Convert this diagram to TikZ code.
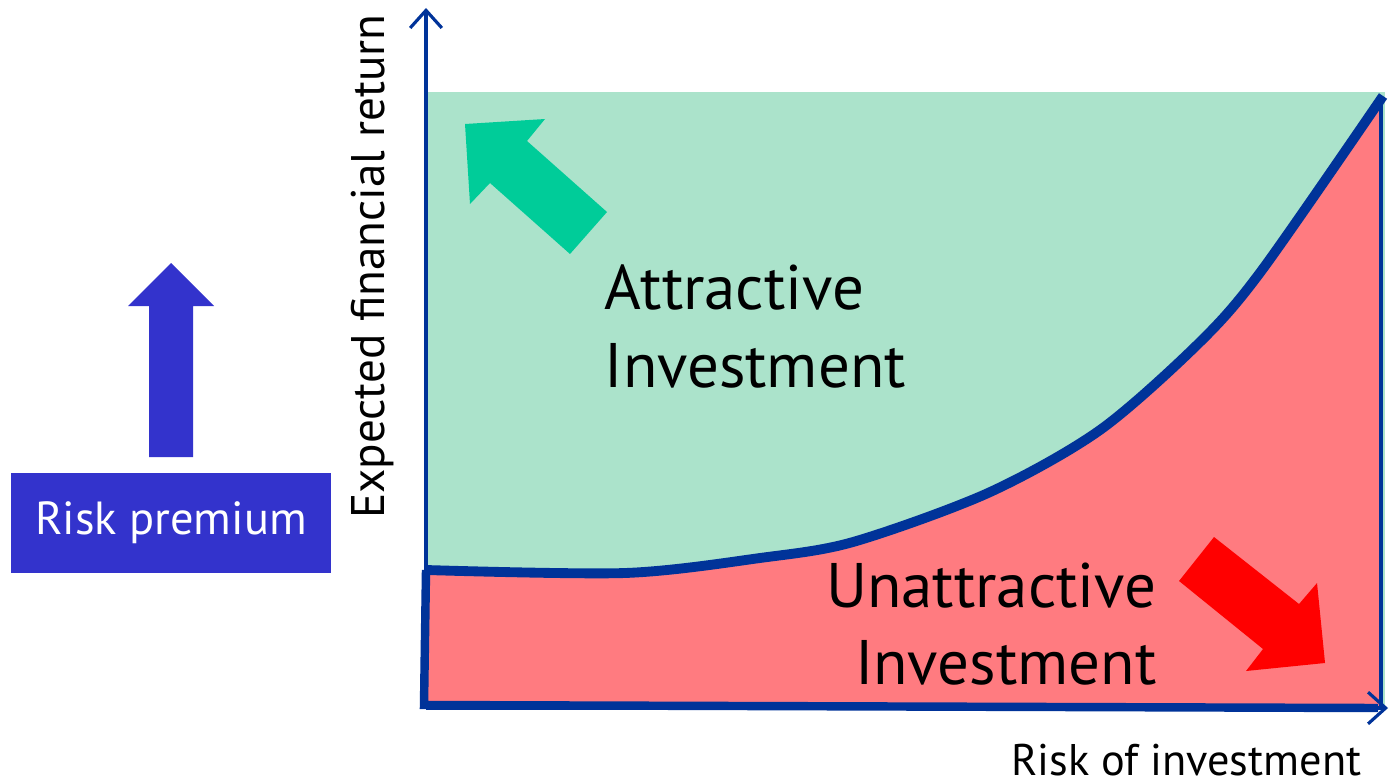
\documentclass[tikz,border=0pt]{standalone}
\usepackage{fontspec}
\setmainfont{PT Sans}
\usetikzlibrary{arrows.meta}

\definecolor{axisblue}{RGB}{0,51,153}
\definecolor{goodzone}{RGB}{171,227,203}
\definecolor{badzone}{RGB}{255,123,128}
\definecolor{goodarrow}{RGB}{0,204,153}
\definecolor{badarrow}{RGB}{255,0,0}
\definecolor{premiumblue}{RGB}{51,51,204}

\tikzset{
  axis/.style={axisblue,line width=0.9pt,-{Straight Barb[length=5pt,width=9pt,line width=0.9pt]}},
  frontier/.style={axisblue,line width=2.8pt,line join=round},
  zonelabel/.style={font=\fontsize{17.9}{21}\selectfont,inner sep=0pt},
  axislabel/.style={font=\fontsize{12.6}{15}\selectfont,inner sep=0pt}
}

\begin{document}
\begin{tikzpicture}[x=0.01cm,y=-0.01cm]
  \useasboundingbox (0,0) rectangle (1389,782);

  % zones above and below the curve
  \fill[goodzone] (426,92) rectangle (1385,705);
  \fill[badzone] (426,572) plot[smooth,tension=0.5] coordinates {(426,572) (625,573) (760,558) (853,542) (988,493) (1100,430) (1200,342) (1262,270) (1383,96)}
    -- (1380,706) -- (426,706) -- cycle;

  % direction arrows
  \fill[goodarrow] (465,124) -- (545,119) -- (527,141) -- (607,212) -- (570,254) -- (490,183) -- (470,204) -- cycle;
  \fill[badarrow] (1179,581) -- (1214,537) -- (1299,604) -- (1317,583) -- (1325,663) -- (1246,671) -- (1263,649) -- cycle;

  % axes
  \coordinate (O) at (426,708);
  \coordinate (ytop) at (426,8);
  \coordinate (xend) at (1388,708);
  \draw[axis] (O) -- (ytop);
  \draw[axis] (O) -- (xend);
  \draw[axisblue,line width=0.9pt] (1381,100) -- (1381,708);
  \draw[axisblue,line width=2.4pt] (426,570) -- (424,705) -- (1378,708);

  % risk/return curve
  \draw[frontier] plot[smooth,tension=0.5] coordinates {(426,570) (625,573) (760,558) (853,542) (988,493) (1100,430) (1200,342) (1262,270) (1383,96)};

  % labels
  \node[zonelabel,anchor=base west] (attr1) at (604,309) {Attractive};
  \node[zonelabel,anchor=base west] (attr2) at (604,387) {Investment};
  \node[zonelabel,anchor=base east] (unattr1) at (1157,607) {Unattractive};
  \node[zonelabel,anchor=base east] (unattr2) at (1157,684) {Investment};
  \node[axislabel,anchor=base east] (xlabel) at (1362,775) {Risk of investment};
  \node[axislabel,anchor=base east,rotate=90,font=\fontsize{13.4}{16}\selectfont] (ylabel) at (384,14) {Expected financial return};

  % risk premium
  \node[fill=premiumblue,text=white,minimum width=3.2cm,minimum height=1cm,
        font=\fontsize{13.2}{16}\selectfont] (premium) at (171,523) {Risk premium};
  \fill[premiumblue] (149,457) -- (149,306) -- (128,306) -- (171,263) -- (214,306) -- (193,306) -- (193,457) -- cycle;
\end{tikzpicture}
\end{document}
